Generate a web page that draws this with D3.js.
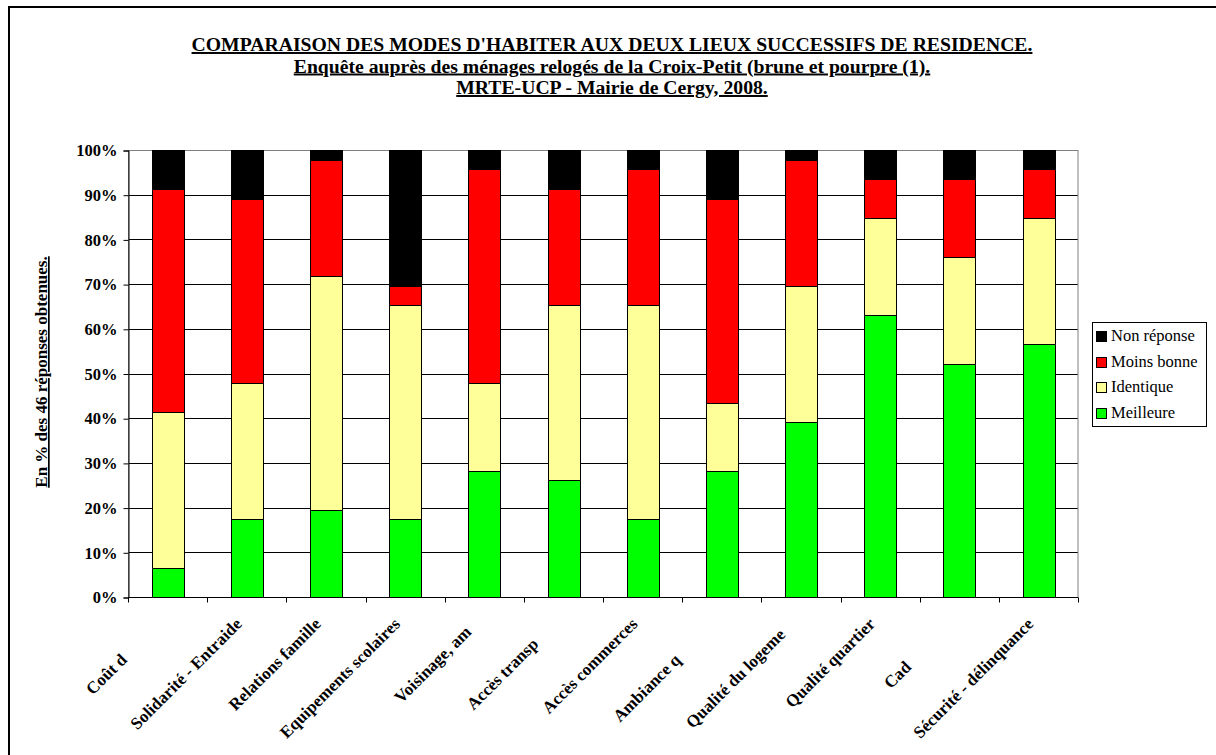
<!DOCTYPE html>
<html><head><meta charset="utf-8">
<script src="https://cdn.jsdelivr.net/npm/d3@7"></script>
<style>body{margin:0;background:#fff}svg{display:block}</style>
</head><body><svg id="c" width="1216" height="755"></svg>
<script>
// ---- data ----
const categories = ["Coût du loyer", "Solidarité - Entraide", "Relations famille", "Equipements scolaires", "Voisinage, amis", "Accès transports", "Accès commerces", "Ambiance quartier", "Qualité du logement", "Qualité quartier", "Cadre de vie", "Sécurité - délinquance"];
const shownLabels = ["Coût d", "Solidarité - Entraide", "Relations famille", "Equipements scolaires", "Voisinage, am", "Accès transp", "Accès commerces", "Ambiance q", "Qualité du logeme", "Qualité quartier", "Cad", "Sécurité - délinquance"];
const seriesNames = ["Meilleure", "Identique", "Moins bonne", "Non réponse"];
const meilleure  = [3, 8, 9, 8, 13, 12, 8, 13, 18, 29, 24, 26];
const identique  = [16, 14, 24, 22, 9, 18, 22, 7, 14, 10, 11, 13];
const moinsBonne = [23, 19, 12, 2, 22, 12, 14, 21, 13, 4, 8, 5];
const nonReponse = [4, 5, 1, 14, 2, 4, 2, 5, 1, 3, 3, 2];
const yTickValues = [0, 0.1, 0.2, 0.3, 0.4, 0.5, 0.6, 0.7, 0.8, 0.9, 1];
const titleLines = ["COMPARAISON DES MODES D'HABITER AUX DEUX LIEUX SUCCESSIFS DE RESIDENCE.", "Enquête auprès des ménages relogés de la Croix-Petit (brune et pourpre (1).", "MRTE-UCP - Mairie de Cergy, 2008."];
const yTitle = "En % des 46 réponses obtenues.";
const seriesColors = ["#00FF00", "#FFFF99", "#FF0000", "#000000"];

// ---- build ----
const table = categories.map((c, i) => ({cat: c, "Meilleure": meilleure[i], "Identique": identique[i], "Moins bonne": moinsBonne[i], "Non réponse": nonReponse[i]}));
const stack = d3.stack().keys(seriesNames).offset(d3.stackOffsetExpand)(table);
const color = d3.scaleOrdinal().domain(seriesNames).range(seriesColors);

const svg = d3.select("#c");
const serif = "'Liberation Serif', 'Times New Roman', serif";
const L = 128, R = 1078, T = 150, B = 597;
const x = d3.scaleBand().domain(categories).range([L, R]).paddingInner(0.6).paddingOuter(0.3);
const y = d3.scaleLinear().domain([0, 1]).range([B, T]);

svg.append("rect").attr("width", 1216).attr("height", 755).attr("fill", "#fff");
svg.append("rect").attr("x", 9).attr("y", 7).attr("width", 1230).attr("height", 770)
  .attr("fill", "none").attr("stroke", "#000").attr("stroke-width", 2);

// title
svg.append("g").selectAll("text").data(titleLines).join("text")
  .attr("x", 612).attr("y", (d, i) => 51 + i * 21.5)
  .attr("text-anchor", "middle").attr("font-family", serif).attr("font-weight", "bold")
  .attr("font-size", 19.7).style("text-decoration", "underline").attr("fill", "#000").text(d => d);

// gridlines
const py = v => Math.round(y(v)) + 0.5;
svg.append("g").selectAll("line").data(yTickValues.filter(v => v > 0 && v < 1)).join("line")
  .attr("x1", L).attr("x2", R).attr("y1", py).attr("y2", py)
  .attr("stroke", "#000").attr("stroke-width", 1);
// plot border
svg.append("rect").attr("x", L + 0.5).attr("y", py(1)).attr("width", R - L - 0.5).attr("height", py(0) - py(1))
  .attr("fill", "none").attr("stroke", "#808080").attr("stroke-width", 1);

// bars
svg.append("g").selectAll("g").data(stack).join("g").attr("fill", d => color(d.key))
  .selectAll("rect").data(d => d).join("rect")
  .attr("x", d => Math.round(x(d.data.cat)) + 0.5)
  .attr("width", Math.round(x.bandwidth()))
  .attr("y", d => Math.round(y(d[1])) + 0.5)
  .attr("height", d => Math.round(y(d[0])) - Math.round(y(d[1])))
  .attr("stroke", "#000").attr("stroke-width", 1);

// y axis
const yAxis = svg.append("g").attr("transform", `translate(${L + 0.5},0.5)`)
  .call(d3.axisLeft(y).tickValues(yTickValues).tickFormat(d3.format(".0%")).tickSize(5).tickPadding(6));
yAxis.select(".domain").attr("stroke", "#000");
yAxis.selectAll(".tick line").attr("stroke", "#000");
yAxis.selectAll(".tick text").attr("font-family", serif).attr("font-weight", "bold").attr("font-size", 16.5).attr("fill", "#000");

// x axis ticks at category boundaries
const step = x.step();
const bounds = d3.range(categories.length + 1).map(i => L + i * step);
svg.append("line").attr("x1", L).attr("x2", R).attr("y1", py(0)).attr("y2", py(0)).attr("stroke", "#000");
svg.append("g").selectAll("line").data(bounds).join("line")
  .attr("x1", d => Math.round(d) + 0.5).attr("x2", d => Math.round(d) + 0.5)
  .attr("y1", py(0)).attr("y2", py(0) + 5).attr("stroke", "#000");

// category labels (rotated; truncated ones placed as clipped full labels)
const meas = svg.append("text").attr("font-family", serif).attr("font-weight", "bold").attr("font-size", 17);
const fullLen = categories.map(c => { meas.text(c); return meas.node().getComputedTextLength(); });
meas.remove();
const lab = svg.append("g");
categories.forEach((c, i) => {
  const cx = x(c) + x.bandwidth() / 2 - 4;
  const g = lab.append("g").attr("transform", `translate(${cx},625) rotate(-45)`);
  const t = g.append("text").attr("font-family", serif).attr("font-weight", "bold").attr("font-size", 17).attr("fill", "#000");
  if (shownLabels[i] === c) t.attr("text-anchor", "end").attr("x", 0).text(shownLabels[i]);
  else t.attr("text-anchor", "start").attr("x", -fullLen[i]).text(shownLabels[i]);
});

// y title
svg.append("text").attr("transform", "translate(47,372) rotate(-90)")
  .attr("text-anchor", "middle").attr("font-family", serif).attr("font-weight", "bold").attr("font-size", 17)
  .style("text-decoration", "underline").attr("fill", "#000").text(yTitle);

// legend
const lg = svg.append("g");
lg.append("rect").attr("x", 1092.5).attr("y", 322.5).attr("width", 114).attr("height", 104)
  .attr("fill", "#fff").attr("stroke", "#000");
const legendOrder = seriesNames.slice().reverse();
legendOrder.forEach((s, i) => {
  const yy = 336 + i * 25.5;
  lg.append("rect").attr("x", 1096.5).attr("y", Math.round(yy - 5) + 0.5).attr("width", 10).attr("height", 10)
    .attr("fill", color(s)).attr("stroke", "#000");
  lg.append("text").attr("x", 1111).attr("y", yy + 5).attr("font-family", serif).attr("font-size", 16.5)
    .attr("fill", "#000").text(s);
});
</script></body></html>
